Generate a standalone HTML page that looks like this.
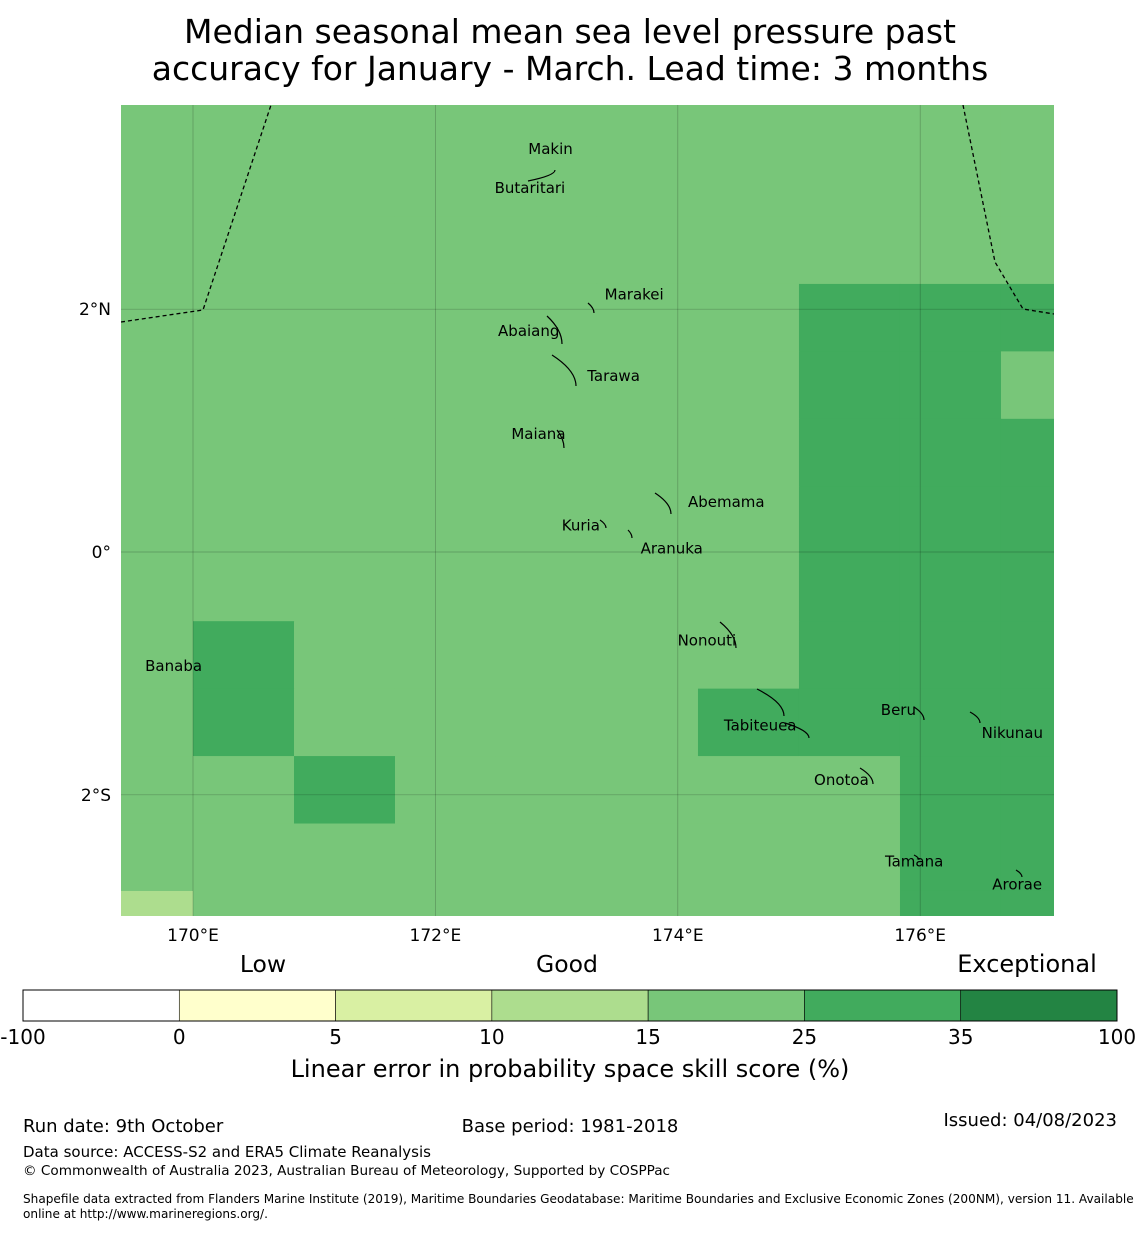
<!DOCTYPE html>
<html><head><meta charset="utf-8"><style>
body{margin:0;background:#fff;font-family:"DejaVu Sans","Liberation Sans",sans-serif;}
svg text{font-family:"DejaVu Sans","Liberation Sans",sans-serif;}
</style></head><body>
<svg id="c" width="1140" height="1230" xmlns="http://www.w3.org/2000/svg">
<text x="570" y="43" font-size="33" text-anchor="middle">Median seasonal mean sea level pressure past</text>
<text x="570" y="80" font-size="33" text-anchor="middle">accuracy for January - March. Lead time: 3 months</text>
<defs><clipPath id="mc"><rect x="121" y="105" width="933" height="811"/></clipPath></defs>
<g id="cells" clip-path="url(#mc)"></g>
<g id="grid" clip-path="url(#mc)"></g>
<g id="eez" clip-path="url(#mc)"></g>
<g id="isl"></g>
<g id="ticks"></g>
<g id="cbar"></g>
<text x="263" y="972" font-size="23.5" text-anchor="middle">Low</text>
<text x="567" y="972" font-size="23.5" text-anchor="middle">Good</text>
<text x="1027" y="972" font-size="24" text-anchor="middle">Exceptional</text>
<text x="570" y="1077" font-size="24" text-anchor="middle">Linear error in probability space skill score (%)</text>
<text x="23" y="1132" font-size="18">Run date: 9th October</text>
<text x="570" y="1132" font-size="18" text-anchor="middle">Base period: 1981-2018</text>
<text x="1117" y="1126" font-size="18" text-anchor="end">Issued: 04/08/2023</text>
<text x="23" y="1157" font-size="15">Data source: ACCESS-S2 and ERA5 Climate Reanalysis</text>
<text x="23" y="1175" font-size="13.6">© Commonwealth of Australia 2023, Australian Bureau of Meteorology, Supported by COSPPac</text>
<text x="23" y="1203" font-size="12.1">Shapefile data extracted from Flanders Marine Institute (2019), Maritime Boundaries Geodatabase: Maritime Boundaries and Exclusive Economic Zones (200NM), version 11. Available</text>
<text x="23" y="1218" font-size="12.1">online at http://www.marineregions.org/.</text>
</svg>
<script>
const lonTicks=[170,172,174,176];
const lonLabels=["170°E","172°E","174°E","176°E"];
const latTicks=[2,0,-2];
const latLabels=["2°N","0°","2°S"];
const levels=[-100,0,5,10,15,25,35,100];
const colors=["#ffffff","#ffffcc","#d9f0a3","#addd8e","#78c679","#41ab5d","#238443"];
const skill=[
[4,4,4,4,4,4,4,4,4,4],
[4,4,4,4,4,4,4,4,4,4],
[4,4,4,4,4,4,4,4,4,4],
[4,4,4,4,4,4,4,5,5,5],
[4,4,4,4,4,4,4,5,5,4],
[4,4,4,4,4,4,4,5,5,5],
[4,4,4,4,4,4,4,5,5,5],
[4,4,4,4,4,4,4,5,5,5],
[4,5,4,4,4,4,4,5,5,5],
[4,5,4,4,4,4,5,5,5,5],
[4,4,5,4,4,4,4,4,5,5],
[4,4,4,4,4,4,4,4,5,5],
[3,4,4,4,4,4,4,4,5,5]];
const islands=[
["Makin",172.95,3.32],["Butaritari",172.78,3.0],["Marakei",173.64,2.12],["Abaiang",172.77,1.82],
["Tarawa",173.47,1.45],["Maiana",172.85,0.97],["Abemama",174.4,0.41],["Kuria",173.2,0.22],
["Aranuka",173.95,0.03],["Nonouti",174.24,-0.73],["Banaba",169.84,-0.94],["Tabiteuea",174.68,-1.43],
["Beru",175.82,-1.3],["Nikunau",176.76,-1.49],["Onotoa",175.35,-1.88],["Tamana",175.95,-2.55],["Arorae",176.8,-2.74]];
const NS="http://www.w3.org/2000/svg";
const X=lon=>193+(lon-170)*121.2;
const Y=lat=>552-lat*121.4;
const c0lon=170-0.8333, r0lat=3.875, dlon=0.8333, dlat=0.5556;
function mk(t,a,p){const e=document.createElementNS(NS,t);for(const k in a)e.setAttribute(k,a[k]);p.appendChild(e);return e;}
const cells=document.getElementById('cells');
skill.forEach((row,r)=>row.forEach((v,c)=>{
 const x0=X(c0lon+c*dlon),x1=X(c0lon+(c+1)*dlon),y0=Y(r0lat-r*dlat),y1=Y(r0lat-(r+1)*dlat);
 const e=mk('rect',{x:x0,y:y0,width:x1-x0+0.5,height:y1-y0+0.5,fill:colors[v]},cells);
 
 
}));
const g=document.getElementById('grid');
lonTicks.forEach(l=>{const e=mk('line',{x1:X(l),x2:X(l),y1:105,y2:916,stroke:"#000","stroke-opacity":0.25,"stroke-width":0.7},g);});
latTicks.forEach(l=>{const e=mk('line',{y1:Y(l),y2:Y(l),x1:121,x2:1054,stroke:"#000","stroke-opacity":0.25,"stroke-width":0.7},g);});
const eez=document.getElementById('eez');
[["M121,322 L203,310 L271,105"],["M963,105 L995,262 L1023,309 L1054,314"]].forEach(d=>{const e=mk('path',{d:d[0],fill:"none",stroke:"#000","stroke-width":1.3,"stroke-dasharray":"4,3"},eez);});
const isl=document.getElementById('isl');
islands.forEach(i=>{
 const x=X(i[1]),y=Y(i[2]);
 const e=mk('text',{x:x,y:y+5,"font-size":15,"text-anchor":"middle"},isl);e.textContent=i[0];
 
 
});
const ok=[[547,316,562,344],[552,355,576,386],[557,430,564,448],[655,493,671,514],[720,622,736,648],[757,689,784,716],[785,723,809,738],[914,707,924,720],[970,712,980,723],[528,181,555,170],[860,768,873,784],[588,303,594,313],[600,520,606,528],[628,530,632,538],[1016,870,1022,877],[914,855,919,860]];
ok.forEach(o=>{const e=mk('path',{d:`M${o[0]},${o[1]} Q${o[2]},${(o[1]+o[3])/2} ${o[2]},${o[3]}`,fill:"none",stroke:"#000","stroke-width":1.2},isl);});
const t=document.getElementById('ticks');
lonTicks.forEach((l,i)=>{const e=mk('text',{x:X(l),y:941,"font-size":17,"text-anchor":"middle"},t);e.textContent=lonLabels[i];});
latTicks.forEach((l,i)=>{const e=mk('text',{x:111,y:Y(l)+6,"font-size":17,"text-anchor":"end"},t);e.textContent=latLabels[i];});
const cb=document.getElementById('cbar');
const bx0=23,bw=1094,n=colors.length;
colors.forEach((col,i)=>{const e=mk('rect',{x:bx0+i*bw/n,y:990,width:bw/n,height:31,fill:col,stroke:"#000","stroke-width":0.6},cb);});
mk('rect',{x:bx0,y:990,width:bw,height:31,fill:"none",stroke:"#000","stroke-width":1},cb);
levels.forEach((lv,i)=>{const e=mk('text',{x:bx0+i*bw/n,y:1044,"font-size":20,"text-anchor":"middle"},cb);e.textContent=lv;});
</script>
</body></html>
